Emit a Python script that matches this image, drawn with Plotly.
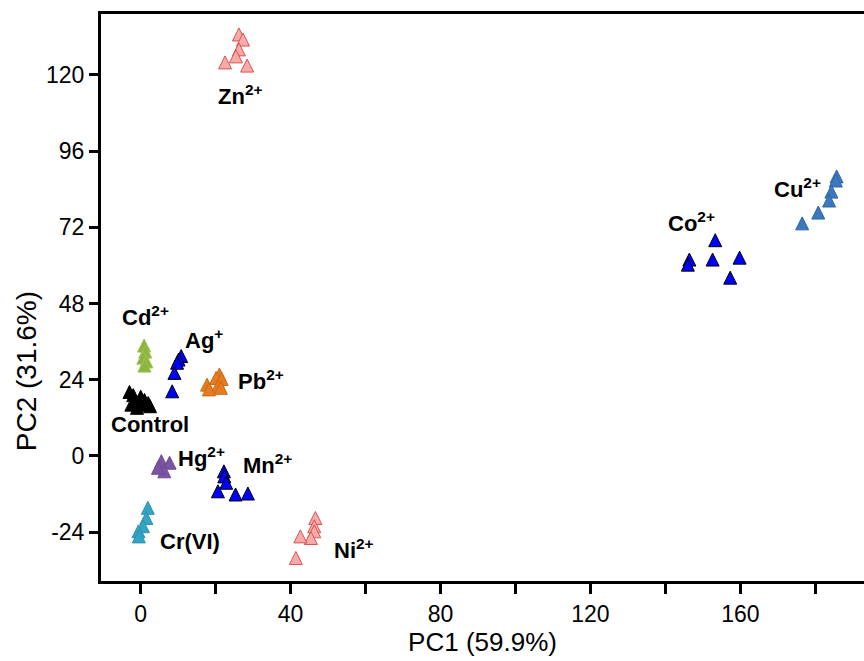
import plotly.graph_objects as go

# ---- data (PC1, PC2) (apex of each triangle) ----
zn_x = [26.2, 27.3, 26.2, 22.5, 25.4, 28.4]
zn_y = [134.8, 133.2, 130.1, 126.0, 127.9, 125.0]
cu_x = [185.7, 185.5, 184.3, 183.7, 180.8, 176.5]
cu_y = [90.1, 88.8, 85.3, 82.5, 78.7, 75.3]
co_x = [153.3, 146.4, 146.0, 152.6, 159.8, 157.3]
co_y = [70.0, 63.9, 62.3, 63.9, 64.5, 58.2]
cd_x = [0.9, 1.2, 0.7, 1.5, 1.0]
cd_y = [36.8, 34.9, 33.0, 31.8, 30.5]
ag_x = [10.8, 10.1, 9.7, 9.0, 8.4]
ag_y = [33.5, 32.4, 31.4, 28.2, 22.4]
pb_x = [21.0, 20.1, 21.6, 17.7, 20.6, 18.2, 21.4]
pb_y = [27.7, 26.6, 26.3, 24.5, 24.0, 23.0, 23.5]
ctrl_x = [-3.0, -2.0, -1.5, -2.5, 0.0, 0.5, 1.0, 2.0, 2.5, -1.0]
ctrl_y = [22.2, 21.2, 19.2, 18.2, 20.7, 18.2, 19.7, 18.7, 17.7, 17.2]
hg_x = [5.5, 7.7, 6.3, 4.6]
hg_y = [0.4, -0.1, -2.8, -1.7]
mn_x = [22.2, 22.3, 22.8, 20.6, 25.3, 28.6]
mn_y = [-2.8, -4.4, -6.4, -9.1, -10.1, -9.8]
cr_x = [1.9, 1.5, 0.6, -0.6, -0.5]
cr_y = [-14.3, -17.5, -20.1, -21.7, -23.3]
ni_x = [46.6, 46.3, 46.3, 45.4, 42.6, 41.4]
ni_y = [-17.5, -20.1, -21.7, -23.8, -23.3, -30.1]

# label text and positions (centre of label)
label_text = ["Zn<sup>2+</sup>", "Cu<sup>2+</sup>", "Co<sup>2+</sup>", "Cd<sup>2+</sup>",
              "Ag<sup>+</sup>", "Pb<sup>2+</sup>", "Control", "Hg<sup>2+</sup>",
              "Mn<sup>2+</sup>", "Cr(VI)", "Ni<sup>2+</sup>"]
label_x = [26.6, 175.3, 146.9, 1.2, 16.8, 32.0, 2.5, 16.1, 33.7, 13.2, 56.8]
label_y = [113.7, 84.4, 73.7, 44.1, 36.7, 23.9, 9.9, -0.3, -2.6, -27.1, -29.3]

x_ticks = [0, 40, 80, 120, 160]
x_labels = ["0", "40", "80", "120", "160"]
y_ticks = [-24, 0, 24, 48, 72, 96, 120]
y_labels = ["-24", "0", "24", "48", "72", "96", "120"]
x_title = "PC1 (59.9%)"
y_title = "PC2 (31.6%)"

groups = [
    (ctrl_x, ctrl_y, "#000000", "#000000"),
    (cd_x, cd_y, "#8DB43E", "#9CC24F"),
    (ag_x, ag_y, "#0000FF", "#000000"),
    (pb_x, pb_y, "#E57C22", "#D06A10"),
    (hg_x, hg_y, "#7B55A3", "#6E4A96"),
    (mn_x, mn_y, "#0000FF", "#000000"),
    (cr_x, cr_y, "#34A4C4", "#2B92B0"),
    (ni_x, ni_y, "#F6AAAA", "#D9534F"),
    (zn_x, zn_y, "#F6AAAA", "#D9534F"),
    (co_x, co_y, "#0000FF", "#000000"),
    (cu_x, cu_y, "#3C78BE", "#2F68A8"),
]

fig = go.Figure()
for gx, gy, fill, edge in groups:
    fig.add_trace(go.Scatter(
        x=gx, y=gy, mode="markers",
        marker=dict(symbol="arrow-up", size=13, color=fill,
                    line=dict(color=edge, width=1)),
        showlegend=False, hoverinfo="skip"))

for t, lx, ly in zip(label_text, label_x, label_y):
    fig.add_annotation(x=lx, y=ly, text="<b>" + t + "</b>", showarrow=False,
                       xanchor="center", yanchor="middle",
                       font=dict(family="Liberation Sans, Arial", size=22, color="#000"))

font = "Liberation Sans, Arial, sans-serif"

# y-axis title (sits below the axis centre in the reference)
fig.add_annotation(xref="paper", yref="paper", x=0, y=0.37, xshift=-75,
                   text=y_title, textangle=-90, showarrow=False,
                   xanchor="center", yanchor="middle",
                   font=dict(family=font, size=28, color="#000"))

fig.update_layout(
    width=864, height=661,
    margin=dict(l=101, r=0, t=14, b=80),
    paper_bgcolor="white", plot_bgcolor="white",
    font=dict(family=font, color="#000"),
    xaxis=dict(range=[-10.6, 193], tickvals=x_ticks, ticktext=x_labels, ticks="outside",
               ticklen=10, tickwidth=3, tickcolor="#000",
               minor=dict(dtick=20, tick0=0, ticks="outside", ticklen=10,
                          tickwidth=3, tickcolor="#000"),
               showline=True, linewidth=3, linecolor="#000", mirror=True,
               showgrid=False, zeroline=False, automargin=False,
               tickfont=dict(size=23, family=font),
               title=dict(text=x_title, font=dict(size=26, family=font), standoff=4)),
    yaxis=dict(range=[-39.4, 139.2], tickvals=y_ticks, ticktext=y_labels, ticks="outside",
               ticklen=9, tickwidth=3, tickcolor="#000",
               showline=True, linewidth=3, linecolor="#000", mirror=False,
               showgrid=False, zeroline=False, automargin=False,
               tickfont=dict(size=23, family=font)),
)

fig.write_html("out.html", config={"displayModeBar": False},
               post_script="document.body.style.margin='0';document.body.style.padding='0';")
